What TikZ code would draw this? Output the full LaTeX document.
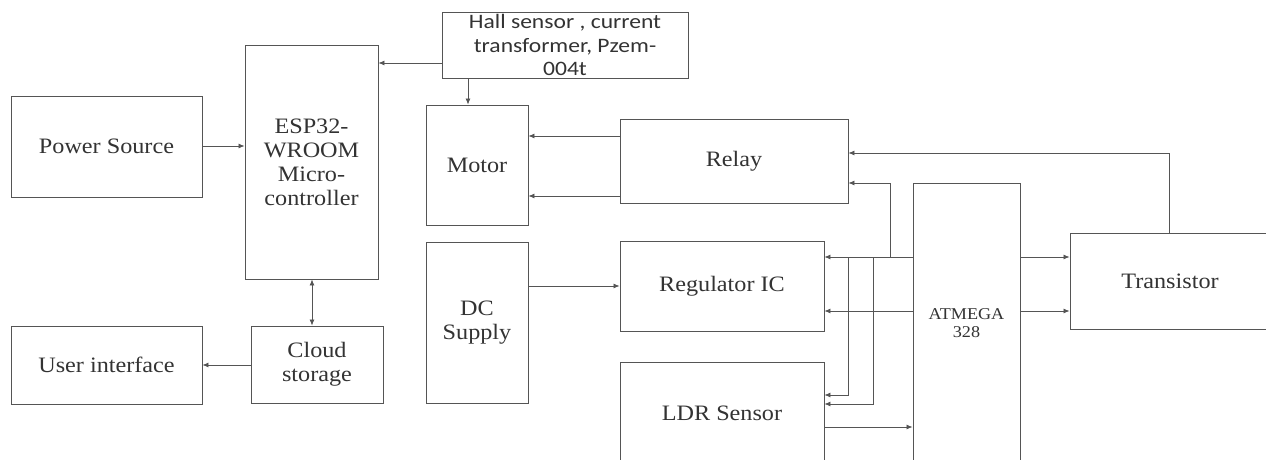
\documentclass[tikz,border=0pt]{standalone}
\usepackage{fontspec}
\setmainfont{Liberation Serif}[FakeStretch=1.1]
\newfontfamily\hallfont{Carlito}[FakeStretch=1.15]
\usetikzlibrary{arrows.meta}
\definecolor{edge}{HTML}{555555}
\definecolor{ink}{HTML}{333333}
\tikzset{
  box/.style={draw=edge, line width=0.9pt, rectangle, inner sep=0pt, align=center,
    text=ink, font=\fontsize{22}{24}\selectfont},
  arr/.style={draw=edge, line width=0.8pt, -{Latex[length=6pt,width=5pt]}},
  arrtwo/.style={draw=edge, line width=0.8pt, {Latex[length=6pt,width=5pt]}-{Latex[length=6pt,width=5pt]}},
  wire/.style={draw=edge, line width=0.8pt},
}
\begin{document}
\begin{tikzpicture}[x=1pt,y=-1pt]
\useasboundingbox (0,0) rectangle (1266,459);
\fill[white] (0,0) rectangle (1266,459);
\clip (0,0) rectangle (1266,459);

\node[box, minimum width=191pt, minimum height=101pt] (ps) at (106.5,146.5) {Power Source};
\node[box, minimum width=133pt, minimum height=234pt] (esp) at (311.5,162) {ESP32-\\WROOM\\Micro-\\controller};
\node[box, minimum width=191pt, minimum height=78pt] (ui) at (106.5,365) {User interface};
\node[box, minimum width=132pt, minimum height=77pt] (cloud) at (317,364.5) {Cloud\\storage};
\node[box, minimum width=246pt, minimum height=66pt, font=\hallfont\fontsize{20.5}{23.5}\selectfont] (hall) at (565,45) {Hall sensor , current\\transformer, Pzem-\\004t};
\node[box, minimum width=102pt, minimum height=120pt] (motor) at (477,165) {Motor};
\node[box, minimum width=228pt, minimum height=84pt] (relay) at (734,161) {Relay};
\node[box, minimum width=102pt, minimum height=161pt] (dc) at (477,322.5) {DC\\Supply};
\node[box, minimum width=204pt, minimum height=90pt] (reg) at (722,286) {Regulator IC};
\node[box, minimum width=204pt, minimum height=102pt] (ldr) at (722,413) {LDR Sensor};
\node[box, minimum width=107pt, minimum height=280pt, font=\fontsize{16.5}{18}\selectfont] (atm) at (966.5,323) {ATMEGA\\328};
\node[box, minimum width=210pt, minimum height=96pt, text width=200pt] (tr) at (1175,281) {\hspace*{-10pt}Transistor};

% left side
\draw[arr] (ps.east |- 0,146) -- (esp.west |- 0,146);
\draw[arr] (hall.west |- 0,63) -- (esp.east |- 0,63);
\draw[arr] (hall.south -| 468,0) -- (motor.north -| 468,0);
\draw[arrtwo] (esp.south -| 312,0) -- (cloud.north -| 312,0);
\draw[arr] (cloud.west |- 0,365) -- (ui.east |- 0,365);

% relay to motor
\draw[arr] (relay.west |- 0,136) -- (motor.east |- 0,136);
\draw[arr] (relay.west |- 0,196) -- (motor.east |- 0,196);

% dc to regulator
\draw[arr] (dc.east |- 0,286) -- (reg.west |- 0,286);

% transistor feedback to relay
\coordinate (tk) at (1169,153);
\draw[arr] (tr.north -| tk) -- (tk) -- (relay.east |- tk);

% atmega bus
\coordinate (ja) at (890,257);
\coordinate (jb) at (848,257);
\coordinate (jc) at (873,257);
\draw[arr] (atm.west |- ja) -- (reg.east |- ja);
\draw[arr] (ja) -- (890,183) -- (relay.east |- 0,183);
\draw[arr] (atm.west |- 0,311) -- (reg.east |- 0,311);
\draw[arr] (jb) -- (848,395) -- (ldr.east |- 0,395);
\draw[arr] (jc) -- (873,404) -- (ldr.east |- 0,404);
\draw[arr] (ldr.east |- 0,427) -- (atm.west |- 0,427);

% atmega to transistor
\draw[arr] (atm.east |- 0,257) -- (tr.west |- 0,257);
\draw[arr] (atm.east |- 0,311) -- (tr.west |- 0,311);
\end{tikzpicture}
\end{document}
